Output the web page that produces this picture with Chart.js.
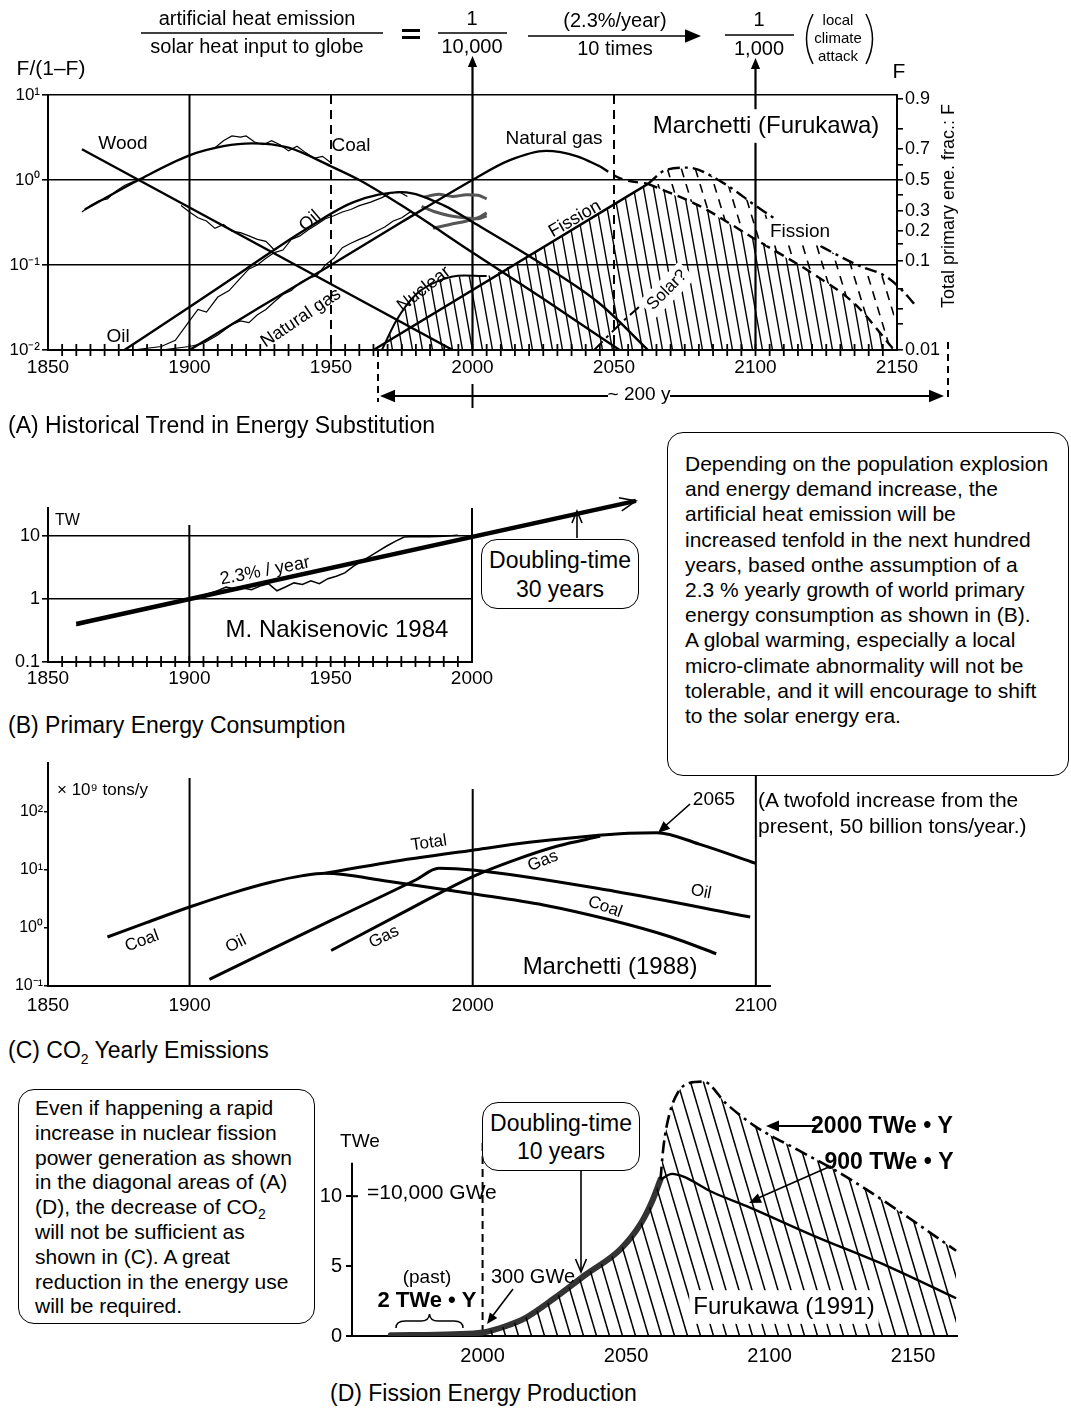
<!DOCTYPE html>
<html>
<head>
<meta charset="utf-8">
<title>Energy substitution, CO2 and fission</title>
<script src="https://cdn.jsdelivr.net/npm/chart.js@4.4.1/dist/chart.umd.min.js"></script>
<style>
  body { margin: 0; background: #fff; }
  #page { position: relative; width: 1071px; height: 1408px; overflow: hidden; background: #fff;
          font-family: "Liberation Sans", Arial, Helvetica, sans-serif; color: #000; }
  canvas { position: absolute; }
  .cap { position: absolute; font-size: 23px; line-height: 26px; white-space: nowrap; }
  .box { position: absolute; border: 1.5px solid #000; border-radius: 16px; background: #fff; box-sizing: border-box; }
  .note { font-size: 21px; line-height: 25.2px; white-space: nowrap; }
  .dbl { font-size: 23px; line-height: 29px; text-align: center; white-space: nowrap; }
  sub { font-size: 14px; line-height: 0; }
</style>
</head>
<body>
<div id="page">
  <canvas id="cA" width="1000" height="420" style="left:0;top:0"></canvas>
  <canvas id="cB" width="660" height="230" style="left:0;top:480px"></canvas>
  <canvas id="cC" width="800" height="290" style="left:0;top:740px"></canvas>
  <canvas id="cD" width="680" height="320" style="left:320px;top:1060px"></canvas>

  <div class="cap" style="left:8px;top:412px">(A) Historical Trend in Energy Substitution</div>
  <div class="cap" style="left:8px;top:712px">(B) Primary Energy Consumption</div>
  <div class="cap" style="left:8px;top:1037px">(C) CO<sub>2</sub> Yearly Emissions</div>
  <div class="cap" style="left:330px;top:1380px">(D) Fission Energy Production</div>

  <div class="box note" style="left:667px;top:432px;width:402px;height:344px;padding:18px 0 0 17px">Depending on the population explosion<br>and energy demand increase, the<br>artificial heat emission will be<br>increased tenfold in the next hundred<br>years, based onthe assumption of a<br>2.3 % yearly growth of world primary<br>energy consumption as shown in (B).<br>A global warming, especially a local<br>micro-climate abnormality will not be<br>tolerable, and it will encourage to shift<br>to the solar energy era.</div>

  <div class="box dbl" style="left:481px;top:539px;width:158px;height:70px;padding-top:6px">Doubling-time<br>30 years</div>

  <div class="note" style="position:absolute;left:758px;top:787px;line-height:26px">(A twofold increase from the<br>present, 50 billion tons/year.)</div>

  <div class="box note" style="left:18px;top:1089px;width:297px;height:235px;padding:6px 0 0 16px;line-height:24.8px">Even if happening a rapid<br>increase in nuclear fission<br>power generation as shown<br>in the diagonal areas of (A)<br>(D), the decrease of CO<sub>2</sub><br>will not be sufficient as<br>shown in (C). A great<br>reduction in the energy use<br>will be required.</div>

  <div class="box dbl" style="left:482px;top:1102px;width:158px;height:69px;padding-top:6px;line-height:28px">Doubling-time<br>10 years</div>
</div>

<script>
const FONT = '"Liberation Sans", Arial, Helvetica, sans-serif';

// ---------- (A) historical trend in energy substitution, values are F/(1-F) ----------
const aYearTicks = [1850, 1900, 1950, 2000, 2050, 2100, 2150];
const aLogTicks = [0.01, 0.1, 1, 10];
const aLogLabels = ['10⁻²', '10⁻¹', '10⁰', '10¹'];
const aFLabels = [0.9, 0.7, 0.5, 0.3, 0.2, 0.1, 0.01];
const aFMinor = [0.8, 0.6, 0.4, 0.15, 0.05, 0.03, 0.02];

const aWood = [[1862, 2.3], [1993, 0.01]];
const aCoal = [[1863, 0.45], [1882, 1.0], [1900, 1.95], [1912, 2.5], [1922, 2.7], [1935, 2.4], [1950, 1.45],
               [1960, 1.0], [1975, 0.5], [2000, 0.14], [2025, 0.04], [2052, 0.01]];
const aOil = [[1877, 0.01], [1900, 0.032], [1920, 0.09], [1940, 0.25], [1958, 0.55], [1975, 0.72], [1990, 0.5],
              [2000, 0.32], [2025, 0.1], [2045, 0.035], [2062, 0.01]];
const aGas = [[1900, 0.01], [1925, 0.032], [1950, 0.1], [1975, 0.32], [2000, 1.0], [2013, 1.7], [2026, 2.2],
              [2037, 1.9], [2045, 1.45]];
const aGasFade = [[2045, 1.45], [2052, 1.05], [2062, 0.9]];
const aNuclear = [[1968, 0.01], [1973, 0.022], [1980, 0.045], [1988, 0.065], [1997, 0.075], [2005, 0.074]];
const aFission = [[1965, 0.01], [2062, 0.9]];
const aFissionDecline = [[2062, 0.9], [2080, 0.5], [2100, 0.2], [2120, 0.08], [2135, 0.035], [2149, 0.01]];
const aFissionHigh = [[2062, 0.9], [2068, 1.3], [2076, 1.4], [2088, 0.95], [2100, 0.5], [2112, 0.27],
                      [2124, 0.16], [2136, 0.1], [2147, 0.07], [2156, 0.035], [2165, 0.013]];
const aFissionShade = [[1968, 0.01], [1973, 0.022], [1980, 0.045], [1988, 0.065], [1997, 0.075], [2007, 0.075],
                       [2030, 0.2], [2062, 0.9], [2080, 0.5], [2100, 0.2], [2120, 0.08], [2135, 0.035], [2149, 0.01]];
const aSolar = [[2043, 0.01], [2052, 0.02], [2062, 0.04], [2075, 0.1]];
// hand-traced historical statistics
const aCoalHist = [[1862, 0.42], [1865, 0.5], [1868, 0.57], [1871, 0.6], [1874, 0.74], [1877, 0.86], [1880, 0.95], [1884, 1.05]];
const aCoalHistPeak = [[1909, 2.4], [1912, 2.9], [1915, 3.3], [1918, 3.2], [1920, 3.3], [1923, 2.8], [1926, 2.6],
                       [1929, 2.9], [1932, 2.6], [1935, 2.2], [1938, 2.5], [1941, 2.1], [1944, 1.8], [1947, 1.9], [1950, 1.6]];
const aWoodHist = [[1897, 0.5], [1900, 0.42], [1903, 0.36], [1906, 0.33], [1909, 0.27], [1912, 0.3], [1915, 0.25],
                   [1918, 0.24], [1921, 0.22], [1924, 0.2], [1927, 0.19], [1930, 0.15]];
const aOilHist = [[1880, 0.01], [1890, 0.011], [1895, 0.013], [1900, 0.022], [1903, 0.03], [1906, 0.028], [1910, 0.042],
                  [1914, 0.05], [1918, 0.07], [1921, 0.09], [1924, 0.1], [1927, 0.12], [1930, 0.14], [1933, 0.15],
                  [1936, 0.2], [1939, 0.22], [1942, 0.26], [1945, 0.3], [1948, 0.35], [1951, 0.38], [1954, 0.42],
                  [1957, 0.45], [1960, 0.5], [1964, 0.55], [1968, 0.62], [1971, 0.7], [1974, 0.73], [1977, 0.64]];
const aGasHist = [[1890, 0.01], [1900, 0.011], [1905, 0.012], [1910, 0.015], [1915, 0.02], [1918, 0.022], [1921, 0.021],
                  [1924, 0.026], [1927, 0.03], [1930, 0.037], [1933, 0.045], [1936, 0.05], [1939, 0.062], [1942, 0.07],
                  [1945, 0.075], [1948, 0.1], [1951, 0.12], [1954, 0.16], [1957, 0.18], [1960, 0.2], [1963, 0.22],
                  [1966, 0.25], [1969, 0.28], [1972, 0.33], [1975, 0.36], [1978, 0.42], [1980, 0.4]];
const aRecent1 = [[1983, 0.63], [1988, 0.68], [1993, 0.64], [1998, 0.67], [2002, 0.66], [2005, 0.6]];
const aRecent2 = [[1982, 0.49], [1987, 0.42], [1992, 0.38], [1997, 0.36], [2002, 0.35], [2005, 0.38]];
const aRecent3 = [[1986, 0.27], [1992, 0.3], [1998, 0.33], [2002, 0.36], [2005, 0.41]];

// ---------- (B) primary energy consumption, TW ----------
const bYearTicks = [1850, 1900, 1950, 2000];
const bLogTicks = [0.1, 1, 10];
const bLogLabels = ['0.1', '1', '10'];
const bTrend = [[1860, 0.4], [2058, 36]];
const bActual = [[1860, 0.38], [1870, 0.5], [1880, 0.63], [1890, 0.8], [1900, 0.97], [1905, 1.15], [1910, 1.35],
                 [1913, 1.55], [1916, 1.45], [1919, 1.5], [1922, 1.4], [1925, 1.6], [1928, 1.75], [1931, 1.35],
                 [1934, 1.55], [1937, 1.8], [1940, 1.7], [1943, 1.95], [1946, 1.75], [1949, 2.1], [1952, 2.3],
                 [1955, 2.6], [1958, 3.3], [1961, 4.0], [1964, 4.8], [1967, 5.8], [1970, 7.0], [1973, 8.3],
                 [1976, 9.6], [1980, 9.8], [1985, 9.7], [1990, 9.9], [1995, 10.3]];

// ---------- (C) CO2 yearly emissions, 10^9 tons/y ----------
const cYearTicks = [1850, 1900, 2000, 2100];
const cLogTicks = [0.1, 1, 10, 100];
const cLogLabels = ['10⁻¹', '10⁰', '10¹', '10²'];
const cCoal = [[1871, 0.7], [1885, 1.25], [1900, 2.3], [1915, 4.0], [1929, 6.2], [1940, 8.0], [1948, 8.8],
               [1970, 6.4], [2000, 3.9], [2025, 2.5], [2048, 1.4], [2070, 0.7], [2086, 0.36]];
const cOil = [[1907, 0.13], [1950, 1.35], [1980, 6.8], [1988, 10.7], [2000, 10.0], [2050, 4.3], [2098, 1.55]];
const cGas = [[1950, 0.41], [1975, 1.8], [2000, 7.7], [2015, 15], [2030, 26], [2045, 38]];
const cTotal = [[1948, 8.8], [1970, 13.5], [2000, 22], [2020, 30], [2040, 38], [2055, 43], [2065, 44], [2080, 28], [2100, 13]];

// ---------- (D) fission energy production, TWe ----------
const dYearTicks = [2000, 2050, 2100, 2150];
const dTicks = [0, 5, 10];
const dGrowth = [[1968, 0.05], [1990, 0.12], [2000, 0.25], [2008, 0.7], [2015, 1.3], [2025, 2.7], [2036, 4.4],
                 [2048, 6.2], [2055, 8.0], [2059, 9.6], [2062, 11.2]];
const dDecline = [[2062, 11.2], [2066, 11.6], [2070, 11.4], [2080, 10.3], [2093, 9.2], [2115, 7.2], [2141, 5.0], [2165, 2.7]];
const dHigh = [[2062, 11.2], [2063, 13.5], [2065, 15.8], [2068, 17.4], [2072, 18.1], [2077, 18.2], [2085, 16.6],
               [2095, 15.0], [2110, 13.3], [2125, 11.6], [2141, 9.5], [2165, 6.1]];

// ---------- helpers ----------
function pts(a) { return a.map(p => ({ x: p[0], y: p[1] })); }
function ser(a, o) {
  return Object.assign({
    data: pts(a), borderColor: '#000', backgroundColor: 'transparent', borderWidth: 2.4,
    pointRadius: 0, fill: false, tension: 0.4, cubicInterpolationMode: 'monotone'
  }, o || {});
}
const straight = { tension: 0, cubicInterpolationMode: 'default' };
const ticksAt = list => s => { s.ticks = list.map(v => ({ value: v })); };
const fixW = w => s => { s.width = w; };
const fixH = h => s => { s.height = h; };
const fnt = (size, bold) => ({ size: size, family: FONT, weight: bold ? 'bold' : 'normal' });

function hatch(w, h, lw, dash) {
  const cv = document.createElement('canvas');
  cv.width = w; cv.height = h;
  const g = cv.getContext('2d');
  g.strokeStyle = '#000'; g.lineWidth = lw;
  if (dash) g.setLineDash(dash);
  g.beginPath();
  for (const dx of [-w, 0, w]) { g.moveTo(dx, 0); g.lineTo(dx + w, h); }
  g.stroke();
  return g.createPattern(cv, 'repeat');
}

function seg(c, x1, y1, x2, y2, w, dash) {
  c.save(); c.lineWidth = w; c.strokeStyle = '#000'; c.setLineDash(dash || []);
  c.beginPath(); c.moveTo(x1, y1); c.lineTo(x2, y2); c.stroke(); c.restore();
}
function head(c, x, y, ang, len, open) {
  c.save(); c.translate(x, y); c.rotate(ang);
  c.fillStyle = '#000'; c.strokeStyle = '#000'; c.lineWidth = 1.6; c.setLineDash([]);
  c.beginPath(); c.moveTo(-len, -len * 0.42); c.lineTo(0, 0); c.lineTo(-len, len * 0.42);
  if (open) c.stroke(); else { c.closePath(); c.fill(); }
  c.restore();
}
function txt(c, s, x, y, o) {
  o = o || {};
  const size = o.size || 19;
  c.save();
  c.font = (o.bold ? 'bold ' : '') + size + 'px ' + FONT;
  c.textAlign = o.align || 'center'; c.textBaseline = 'middle';
  c.translate(x, y);
  if (o.rot) c.rotate(o.rot * Math.PI / 180);
  if (o.bg) {
    const w = c.measureText(s).width;
    c.fillStyle = '#fff'; c.fillRect(-w / 2 - 4, -size * 0.7, w + 8, size * 1.4);
  }
  c.fillStyle = '#000'; c.fillText(s, 0, 0);
  c.restore();
}

const hatchA = hatch(10, 56, 1.4);
const combA = hatch(14, 46, 1.6, [9, 7]);
const hatchD = hatch(13, 44, 1.5);

const base = {
  responsive: false, animation: false, events: [],
  plugins: { legend: { display: false }, tooltip: { enabled: false } }
};
const blackBorder = { display: true, color: '#000', width: 2 };

// ---------- chart A ----------
const fAll = aFLabels.concat(aFMinor);
const fTickValues = fAll.map(f => f / (1 - f));
const fTickText = aFLabels.map(String).concat(aFMinor.map(() => ''));

const decoA = {
  id: 'decoA',
  beforeDatasetsDraw(chart) {
    const c = chart.ctx, x = chart.scales.x, a = chart.chartArea;
    seg(c, x.getPixelForValue(1900), a.top, x.getPixelForValue(1900), a.bottom, 2);
    seg(c, x.getPixelForValue(1950), a.top, x.getPixelForValue(1950), a.bottom, 2, [9, 6]);
    seg(c, x.getPixelForValue(2050), a.top, x.getPixelForValue(2050), a.bottom, 2, [9, 6]);
    seg(c, x.getPixelForValue(2000), 60, x.getPixelForValue(2000), a.bottom, 2.2);
    seg(c, x.getPixelForValue(2100), 62, x.getPixelForValue(2100), a.bottom, 2.2);
  },
  afterDraw(chart) {
    const c = chart.ctx, x = chart.scales.x, a = chart.chartArea;
    const X = v => x.getPixelForValue(v);
    for (let yr = 1855; yr < 2150; yr += 5) seg(c, X(yr), a.bottom - 6, X(yr), a.bottom + 6, 1.8);
    head(c, X(2000), 56, -Math.PI / 2, 11);
    head(c, X(2100), 58, -Math.PI / 2, 11);

    txt(c, 'Wood', 123, 144);
    txt(c, 'Coal', 351, 146);
    txt(c, 'Natural gas', 554, 139);
    txt(c, 'Marchetti (Furukawa)', 766, 126, { size: 24, bg: true });
    txt(c, 'Oil', 310, 221, { rot: -41, size: 18 });
    txt(c, 'Oil', 118, 337);
    txt(c, 'Natural gas', 301, 318, { rot: -34, size: 18 });
    txt(c, 'Nuclear', 424, 289, { rot: -38, size: 18 });
    txt(c, 'Fission', 575, 219, { rot: -30, size: 18 });
    txt(c, 'Fission', 800, 232, { bg: true });
    txt(c, 'Solar?', 667, 290, { rot: -45, size: 17, bg: true });
    txt(c, 'F/(1–F)', 51, 69, { size: 21 });
    txt(c, 'F', 899, 72, { size: 21 });
    txt(c, 'Total primary ene. frac.: F', 949, 206, { size: 18, rot: -90 });

    // heat emission ratio along the top
    txt(c, 'artificial heat emission', 257, 19, { size: 20 });
    txt(c, 'solar heat input to globe', 257, 47, { size: 20 });
    seg(c, 141, 33, 383, 33, 1.5);
    c.fillStyle = '#000'; c.fillRect(402, 29, 18, 3); c.fillRect(402, 36, 18, 3);
    txt(c, '1', 472, 19, { size: 20 });
    txt(c, '10,000', 472, 47, { size: 20 });
    seg(c, 438, 33, 507, 33, 1.5);
    txt(c, '(2.3%/year)', 615, 21, { size: 20 });
    txt(c, '10 times', 615, 49, { size: 20 });
    seg(c, 528, 36, 690, 36, 1.6);
    head(c, 701, 36, 0, 16);
    txt(c, '1', 759, 20, { size: 20 });
    txt(c, '1,000', 759, 49, { size: 20 });
    seg(c, 725, 35, 794, 35, 1.5);
    c.save(); c.lineWidth = 1.5; c.strokeStyle = '#000';
    c.beginPath(); c.moveTo(813, 14); c.quadraticCurveTo(800, 39, 813, 64); c.stroke();
    c.beginPath(); c.moveTo(866, 14); c.quadraticCurveTo(879, 39, 866, 64); c.stroke();
    c.restore();
    txt(c, 'local', 838, 21, { size: 15 });
    txt(c, 'climate', 838, 39, { size: 15 });
    txt(c, 'attack', 838, 57, { size: 15 });

    // ~200 y span below the axis
    seg(c, 378, a.bottom, 378, 402, 2, [7, 5]);
    seg(c, 948, a.bottom - 8, 948, 402, 2, [7, 5]);
    seg(c, X(2000), 384, X(2000), 408, 2);
    seg(c, 384, 396, 608, 396, 1.8);
    seg(c, 670, 396, 938, 396, 1.8);
    head(c, 380, 396, Math.PI, 15);
    head(c, 944, 396, 0, 15);
    txt(c, '~ 200 y', 639, 395, { size: 19 });
  }
};

new Chart(document.getElementById('cA'), {
  type: 'line',
  data: {
    datasets: [
      ser(aFissionShade, Object.assign({ borderWidth: 0, fill: { value: 0.01 }, backgroundColor: hatchA }, straight)),
      ser(aFissionDecline, { borderDash: [10, 6] }),
      ser(aFissionHigh, { borderDash: [12, 5, 3, 5], fill: 1, backgroundColor: combA, clip: false }),
      ser(aWood, straight),
      ser(aCoal),
      ser(aOil),
      ser(aGas),
      ser(aGasFade, { borderDash: [10, 6] }),
      ser(aNuclear, { borderWidth: 2 }),
      ser(aFission, straight),
      ser(aSolar, { borderDash: [12, 5, 3, 5], borderWidth: 2 }),
      ser(aCoalHist, Object.assign({ borderWidth: 1.2 }, straight)),
      ser(aCoalHistPeak, Object.assign({ borderWidth: 1.2 }, straight)),
      ser(aWoodHist, Object.assign({ borderWidth: 1.2 }, straight)),
      ser(aOilHist, Object.assign({ borderWidth: 1.2 }, straight)),
      ser(aGasHist, Object.assign({ borderWidth: 1.2 }, straight)),
      ser(aRecent1, { borderColor: '#555', borderWidth: 3 }),
      ser(aRecent2, { borderColor: '#555', borderWidth: 3 }),
      ser(aRecent3, { borderColor: '#555', borderWidth: 3 })
    ]
  },
  options: Object.assign({}, base, {
    layout: { padding: { top: 95, bottom: 35, left: 0, right: 0 } },
    scales: {
      x: {
        type: 'linear', min: 1850, max: 2150, afterFit: fixH(35), afterBuildTicks: ticksAt(aYearTicks),
        ticks: { callback: v => String(v), font: fnt(19), color: '#000', padding: 6, maxRotation: 0, autoSkip: false },
        grid: { drawOnChartArea: false, drawTicks: false }, border: blackBorder
      },
      y: {
        type: 'logarithmic', min: 0.01, max: 10, afterFit: fixW(48), afterBuildTicks: ticksAt(aLogTicks),
        ticks: { callback: (v, i) => aLogLabels[i], font: fnt(17), color: '#000', padding: 2, autoSkip: false },
        grid: { color: '#000', lineWidth: 1.6, tickLength: 6 }, border: blackBorder
      },
      y2: {
        type: 'logarithmic', position: 'right', min: 0.01, max: 10, afterFit: fixW(103),
        afterBuildTicks: ticksAt(fTickValues),
        ticks: { callback: (v, i) => fTickText[i], font: fnt(18), color: '#000', padding: 2, autoSkip: false },
        grid: { drawOnChartArea: false, color: '#000', lineWidth: 1.6, tickLength: 6 }, border: blackBorder
      }
    }
  }),
  plugins: [decoA]
});

// ---------- chart B ----------
const decoB = {
  id: 'decoB',
  beforeDatasetsDraw(chart) {
    const c = chart.ctx, x = chart.scales.x, a = chart.chartArea;
    seg(c, x.getPixelForValue(1900), 45, x.getPixelForValue(1900), a.bottom, 2);
    seg(c, x.getPixelForValue(2000), a.top, x.getPixelForValue(2000), a.bottom, 2);
  },
  afterDraw(chart) {
    const c = chart.ctx, x = chart.scales.x, y = chart.scales.y, a = chart.chartArea;
    for (let yr = 1855; yr < 2000; yr += 5) seg(c, x.getPixelForValue(yr), a.bottom - 6, x.getPixelForValue(yr), a.bottom + 5, 1.8);
    const p0 = bTrend[0], p1 = bTrend[1];
    const x0 = x.getPixelForValue(p0[0]), y0 = y.getPixelForValue(p0[1]);
    const x1 = x.getPixelForValue(p1[0]), y1 = y.getPixelForValue(p1[1]);
    head(c, x1, y1, Math.atan2(y1 - y0, x1 - x0), 16, true);
    seg(c, 577, 58, 577, 32, 1.6);
    head(c, 577, 31, -Math.PI / 2, 12, true);
    txt(c, 'TW', 55, 41, { size: 16, align: 'left' });
    txt(c, '2.3% / year', 265, 91, { size: 18, rot: -11 });
    txt(c, 'M. Nakisenovic 1984', 337, 150, { size: 24 });
  }
};

new Chart(document.getElementById('cB'), {
  type: 'line',
  data: {
    datasets: [
      ser(bTrend, Object.assign({ borderWidth: 4.5, clip: false }, straight)),
      ser(bActual, Object.assign({ borderWidth: 1.5 }, straight))
    ]
  },
  options: Object.assign({}, base, {
    layout: { padding: { top: 28, bottom: 18, left: 0, right: 188 } },
    scales: {
      x: {
        type: 'linear', min: 1850, max: 2000, afterFit: fixH(30), afterBuildTicks: ticksAt(bYearTicks),
        ticks: { callback: v => String(v), font: fnt(19), color: '#000', padding: 5, maxRotation: 0, autoSkip: false },
        grid: { drawOnChartArea: false, drawTicks: false }, border: blackBorder
      },
      y: {
        type: 'logarithmic', min: 0.1, max: 27.8, afterFit: fixW(48), afterBuildTicks: ticksAt(bLogTicks),
        ticks: { callback: (v, i) => bLogLabels[i], font: fnt(18), color: '#000', padding: 2, autoSkip: false },
        grid: { color: '#000', lineWidth: 1.6, tickLength: 6 }, border: blackBorder
      }
    }
  }),
  plugins: [decoB]
});

// ---------- chart C ----------
const decoC = {
  id: 'decoC',
  beforeDatasetsDraw(chart) {
    const c = chart.ctx, x = chart.scales.x, a = chart.chartArea;
    seg(c, x.getPixelForValue(1900), 38, x.getPixelForValue(1900), a.bottom, 2);
    seg(c, x.getPixelForValue(2000), 49, x.getPixelForValue(2000), a.bottom, 2);
    seg(c, x.getPixelForValue(2100), 25, x.getPixelForValue(2100), a.bottom, 2);
  },
  afterDraw(chart) {
    const c = chart.ctx;
    c.save(); c.translate(0, -740);
    txt(c, '× 10⁹ tons/y', 57, 790, { size: 17, align: 'left' });
    txt(c, 'Coal', 142, 941, { size: 17, rot: -20 });
    txt(c, 'Oil', 236, 944, { size: 17, rot: -26 });
    txt(c, 'Gas', 384, 937, { size: 17, rot: -27 });
    txt(c, 'Total', 429, 843, { size: 17, rot: -8 });
    txt(c, 'Gas', 543, 861, { size: 17, rot: -22 });
    txt(c, 'Oil', 701, 892, { size: 17, rot: 11 });
    txt(c, 'Coal', 605, 907, { size: 17, rot: 20 });
    txt(c, '2065', 714, 800, { size: 19 });
    seg(c, 690, 804, 663, 828, 1.6);
    head(c, 658, 833, Math.atan2(29, -32), 12);
    txt(c, 'Marchetti (1988)', 610, 967, { size: 24 });
    c.restore();
  }
};

new Chart(document.getElementById('cC'), {
  type: 'line',
  data: {
    datasets: [
      ser(cCoal, { borderWidth: 3 }),
      ser(cOil, { borderWidth: 3 }),
      ser(cGas, { borderWidth: 3 }),
      ser(cTotal, { borderWidth: 3 })
    ]
  },
  options: Object.assign({}, base, {
    layout: { padding: { top: 23, bottom: 14, left: 0, right: 30 } },
    scales: {
      x: {
        type: 'linear', min: 1850, max: 2105, afterFit: fixH(30), afterBuildTicks: ticksAt(cYearTicks),
        ticks: { callback: v => String(v), font: fnt(19), color: '#000', padding: 8, maxRotation: 0, autoSkip: false },
        grid: { drawOnChartArea: false, drawTicks: false }, border: blackBorder
      },
      y: {
        type: 'logarithmic', min: 0.1, max: 700, afterFit: fixW(48), afterBuildTicks: ticksAt(cLogTicks),
        ticks: { callback: (v, i) => cLogLabels[i], font: fnt(16), color: '#000', padding: 1, autoSkip: false },
        grid: { drawOnChartArea: false, color: '#000', lineWidth: 1.5, tickLength: 4 }, border: blackBorder
      }
    }
  }),
  plugins: [decoC]
});

// ---------- chart D ----------
const dShade = dGrowth.filter(p => p[0] >= 2000).concat(dDecline.slice(1));

const decoD = {
  id: 'decoD',
  beforeDatasetsDraw(chart) {
    const c = chart.ctx, x = chart.scales.x, y = chart.scales.y;
    seg(c, x.getPixelForValue(2000), y.getPixelForValue(13.8), x.getPixelForValue(2000), y.getPixelForValue(0), 2, [8, 5]);
  },
  afterDraw(chart) {
    const c = chart.ctx, x = chart.scales.x, y = chart.scales.y;
    const x0 = x.getPixelForValue(x.min);
    seg(c, x0, y.getPixelForValue(0), x0, y.getPixelForValue(12.4), 2);
    seg(c, x0, y.getPixelForValue(10), x0 + 6, y.getPixelForValue(10), 2);
    c.save(); c.translate(-320, -1060);
    txt(c, 'TWe', 360, 1142, { size: 19 });
    txt(c, '=10,000 GWe', 367, 1193, { size: 21, align: 'left' });
    txt(c, '(past)', 427, 1278, { size: 19 });
    txt(c, '2 TWe • Y', 427, 1301, { size: 22, bold: true });
    c.lineWidth = 1.5; c.strokeStyle = '#000';
    c.beginPath();
    c.moveTo(396, 1328); c.quadraticCurveTo(396, 1321, 405, 1321); c.lineTo(421, 1321);
    c.quadraticCurveTo(429, 1321, 429.5, 1314); c.quadraticCurveTo(430, 1321, 438, 1321);
    c.lineTo(454, 1321); c.quadraticCurveTo(463, 1321, 463, 1328);
    c.stroke();
    txt(c, '300 GWe', 533, 1277, { size: 20 });
    seg(c, 513, 1289, 491, 1318, 1.6);
    head(c, 487, 1324, Math.atan2(35, -26), 11);
    seg(c, 581, 1171, 581, 1270, 1.6);
    head(c, 581, 1272, Math.PI / 2, 13, true);
    txt(c, '2000 TWe • Y', 882, 1127, { size: 23, bold: true });
    seg(c, 818, 1126, 774, 1126, 2);
    head(c, 766, 1126, Math.PI, 13);
    txt(c, '900 TWe • Y', 889, 1163, { size: 23, bold: true });
    seg(c, 831, 1166, 756, 1199, 1.6);
    head(c, 749, 1203, Math.atan2(37, -82), 12);
    txt(c, 'Furukawa (1991)', 784, 1307, { size: 24, bg: true });
    c.restore();
  }
};

new Chart(document.getElementById('cD'), {
  type: 'line',
  data: {
    datasets: [
      ser(dShade, { borderWidth: 0, fill: 'origin', backgroundColor: hatchD }),
      ser(dDecline, { borderWidth: 2.4 }),
      ser(dHigh, { borderDash: [13, 5, 3, 5], borderWidth: 2.6, fill: 1, backgroundColor: hatchD }),
      ser(dGrowth, { borderColor: '#333', borderWidth: 6, borderCapStyle: 'round' })
    ]
  },
  options: Object.assign({}, base, {
    layout: { padding: { top: 10, bottom: 14, left: 0, right: 43 } },
    scales: {
      x: {
        type: 'linear', min: 1954.5, max: 2165.3, afterFit: fixH(30), afterBuildTicks: ticksAt(dYearTicks),
        ticks: { callback: v => String(v), font: fnt(20), color: '#000', padding: 8, maxRotation: 0, autoSkip: false },
        grid: { drawOnChartArea: false, drawTicks: false }, border: blackBorder
      },
      y: {
        type: 'linear', min: 0, max: 18.6, afterFit: fixW(32), afterBuildTicks: ticksAt(dTicks),
        ticks: { callback: v => String(v), font: fnt(20), color: '#000', padding: 4, autoSkip: false },
        grid: { drawOnChartArea: false, color: '#000', lineWidth: 2, tickLength: 6 }, border: { display: false }
      }
    }
  }),
  plugins: [decoD]
});
</script>
</body>
</html>
